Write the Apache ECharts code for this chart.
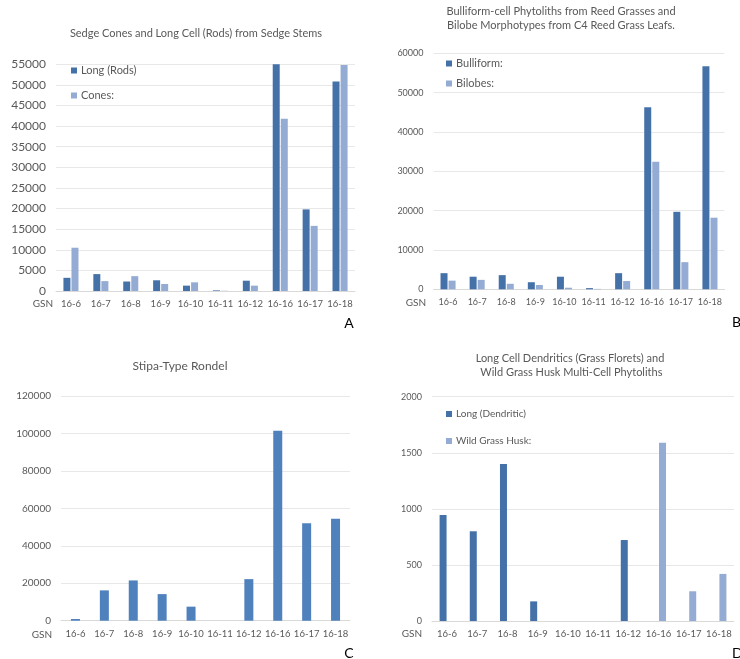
<!DOCTYPE html>
<html>
<head>
<meta charset="utf-8">
<script src="https://cdn.jsdelivr.net/npm/echarts@6/dist/echarts.min.js"></script>
<style>
html,body{margin:0;padding:0;background:#fff;}
#chart{width:740px;height:659px;}
</style>
</head>
<body>
<div id="chart"></div>
<script>
// ---- data ----
const categories = ['16-6','16-7','16-8','16-9','16-10','16-11','16-12','16-16','16-17','16-18'];
// Panel A
const longRods = [3200, 4100, 2300, 2600, 1300, 150, 2500, 55000, 19800, 50800];
const cones    = [10500, 2400, 3600, 1700, 2100, 50, 1300, 41800, 15800, 54800];
// Panel B
const bulliform = [4100, 3200, 3600, 1800, 3200, 300, 4100, 46300, 19700, 56700];
const bilobes   = [2200, 2400, 1400, 1100, 400, 100, 2100, 32400, 6900, 18200];
// Panel C
const stipa = [900, 16200, 21500, 14200, 7500, 0, 22200, 101500, 52000, 54500];
// Panel D
const dendritic = [945, 800, 1400, 175, 0, 0, 722, 0, 0, 0];
const husk      = [0, 0, 0, 0, 0, 0, 0, 1590, 265, 420];
// axis ticks
const axisA = {max: 55000, interval: 5000};
const axisB = {max: 60000, interval: 10000};
const axisC = {max: 120000, interval: 20000};
const axisD = {max: 2000, interval: 500};

const FONT = 'Lato, "Open Sans", sans-serif';
const GRAY = '#595959';
const DARK = '#4472a8';
const LIGHT = '#94abd3';
const MID = '#4f81bd';

const chart = echarts.init(document.getElementById('chart'));

function xAx(i, fs) {
  return {
    type: 'category', gridIndex: i, data: categories,
    axisTick: {show: false},
    axisLine: {lineStyle: {color: '#d9d9d9'}},
    axisLabel: {color: GRAY, fontSize: fs, fontFamily: FONT, interval: 0, margin: 8}
  };
}
function yAx(i, cfg, fs) {
  return {
    type: 'value', gridIndex: i, min: 0, max: cfg.max, interval: cfg.interval,
    axisLine: {show: false}, axisTick: {show: false},
    splitLine: {lineStyle: {color: '#e8e8e8'}},
    axisLabel: {color: GRAY, fontSize: fs, fontFamily: FONT, margin: 10,
                formatter: function (v) { return String(v); }}
  };
}
function bar(name, data, i, color, width) {
  return {
    name: name, type: 'bar', xAxisIndex: i, yAxisIndex: i, data: data,
    barWidth: width, barGap: '15%',
    itemStyle: {color: color},
    emphasis: {disabled: true}
  };
}
function txt(text, x, y, opts) {
  opts = opts || {};
  return {
    type: 'text', x: x, y: y, silent: true,
    style: {
      text: text,
      fill: opts.fill || GRAY,
      font: (opts.size || 12) + 'px ' + FONT,
      textAlign: opts.align || 'center',
      textVerticalAlign: 'middle',
      lineHeight: opts.lh || 14
    }
  };
}
function leg(names, left, top, gap, fs) {
  return {
    orient: 'vertical', left: left, top: top, itemGap: gap,
    itemWidth: 6, itemHeight: 6, icon: 'rect', data: names,
    selectedMode: false,
    textStyle: {color: GRAY, fontSize: fs, fontFamily: FONT, padding: [0, 0, 0, -1]}
  };
}

const option = {
  animation: false,
  backgroundColor: '#fff',
  grid: [
    {left: 56, top: 64.3, width: 299, height: 226.7},
    {left: 433.5, top: 53.3, width: 291, height: 236},
    {left: 61, top: 396, width: 289, height: 224.7},
    {left: 432, top: 396.7, width: 302, height: 224.3}
  ],
  xAxis: [xAx(0, 9.5), xAx(1, 9), xAx(2, 9.5), xAx(3, 9.5)],
  yAxis: [yAx(0, axisA, 12), yAx(1, axisB, 9), yAx(2, axisC, 10), yAx(3, axisD, 9)],
  legend: [
    leg(['Long (Rods)', 'Cones:'], 66, 60, 14, 11),
    leg(['Bulliform:', 'Bilobes:'], 441, 53, 9, 11),
    leg(['Long (Dendritic)', 'Wild Grass Husk:'], 441, 404, 17, 10)
  ],
  series: [
    bar('Long (Rods)', longRods, 0, DARK, 7),
    bar('Cones:', cones, 0, LIGHT, 7),
    bar('Bulliform:', bulliform, 1, DARK, 7),
    bar('Bilobes:', bilobes, 1, LIGHT, 7),
    bar('Stipa-Type Rondel', stipa, 2, MID, 9),
    bar('Long (Dendritic)', dendritic, 3, DARK, 7),
    bar('Wild Grass Husk:', husk, 3, LIGHT, 7)
  ],
  graphic: [
    txt('Sedge Cones and Long Cell (Rods) from Sedge Stems', 196, 33, {size: 11}),
    txt('Bulliform-cell Phytoliths from Reed Grasses and\nBilobe Morphotypes from C4 Reed Grass Leafs.', 561, 18, {size: 11}),
    txt('Stipa-Type Rondel', 180, 366),
    txt('Long Cell Dendritics (Grass Florets) and\n Wild Grass Husk Multi-Cell Phytoliths', 570, 365, {size: 11}),
    txt('GSN', 43, 304, {size: 10}),
    txt('GSN', 416, 303, {size: 10}),
    txt('GSN', 42, 635, {size: 10}),
    txt('GSN', 412, 634, {size: 10}),
    txt('A', 349, 323, {fill: '#000', size: 14}),
    txt('B', 732, 322, {fill: '#000', size: 14, align: 'left'}),
    txt('C', 349, 653, {fill: '#000', size: 14}),
    txt('D', 732, 653, {fill: '#000', size: 14, align: 'left'})
  ]
};
chart.setOption(option);
</script>
</body>
</html>
